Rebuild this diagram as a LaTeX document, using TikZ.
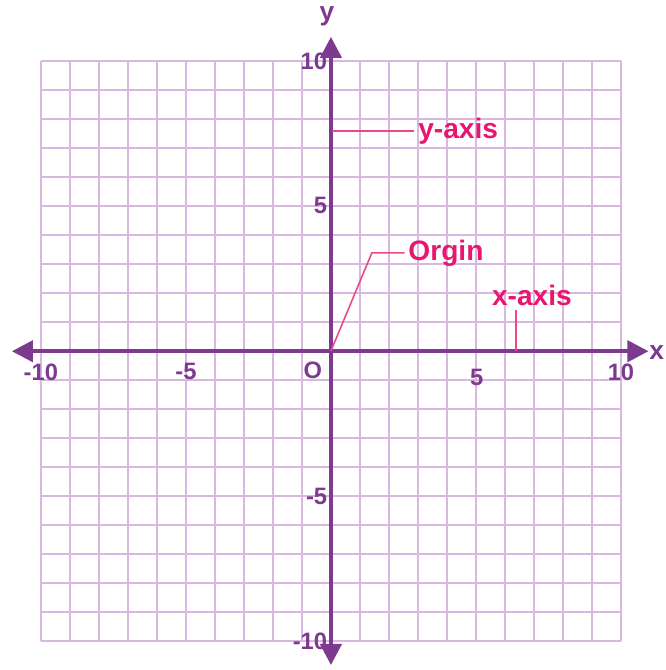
\documentclass[tikz,border=0pt]{standalone}
\usepackage{fontspec}
\setsansfont{Liberation Sans}
\usetikzlibrary{arrows.meta}
\definecolor{AxisPurple}{RGB}{125,58,142}
\definecolor{GridLilac}{RGB}{216,184,224}
\definecolor{NotePink}{RGB}{232,22,112}
\definecolor{LeaderPink}{RGB}{238,70,140}

\begin{document}
\begin{tikzpicture}[x=0.58cm,y=0.58cm, every node/.style={font=\sffamily\bfseries},
  axis/.style={AxisPurple, line width=2.3pt, -{Triangle[width=12pt,length=12pt]}},
  ticklabel/.style={text=AxisPurple, font=\sffamily\bfseries\fontsize{13.5}{14}\selectfont, inner sep=0pt},
  note/.style={text=NotePink, font=\sffamily\bfseries\fontsize{16}{17}\selectfont, inner sep=0pt},
  leader/.style={LeaderPink, line width=0.9pt}]
  \useasboundingbox (-11.41,-11.0) rectangle (11.52,12.10);
  \draw[GridLilac, line width=0.85pt, step={(1,1)}] (-10,-10) grid (10,10);
  % axes
  \draw[axis] (0,-0.01) -- (-11.0,-0.01);
  \draw[axis] (0,-0.01) -- (10.95,-0.01);
  \draw[axis] (0,0) -- (0,10.83);
  \draw[axis] (0,0) -- (0,-10.83);
  \node[text=AxisPurple, font=\sffamily\bfseries\fontsize{15}{16}\selectfont] (ylabel) at (-0.14,11.55) {y};
  \node[text=AxisPurple, font=\sffamily\bfseries\fontsize{15}{16}\selectfont, anchor=east, inner sep=0pt] (xlabel) at (11.5,-0.05) {x};
  % tick labels
  \foreach \y/\t in {10/10,5/5,-5/-5,-10/-10} {
    \node[ticklabel, anchor=east] (ytick\y) at (-0.12,\y) {\t};
  }
  \foreach \x/\t in {-10/-10,-5/-5,10/10} {
    \node[ticklabel] (xtick\x) at (\x,-0.72) {\t};
  }
  \node[ticklabel] (xtick5) at (5.03,-0.92) {5};
  \node[ticklabel] (origlabel) at (-0.62,-0.68) {O};
  % annotations
  \coordinate (O) at (0,0);
  \coordinate (yfoot) at (0.05,7.59);
  \coordinate (obend) at (1.41,3.38);
  \coordinate (xfoot) at (6.38,0);
  \node[note, anchor=west] (ynote) at (3.0,7.59) {y-axis};
  \node[note, anchor=west] (onote) at (2.66,3.38) {Orgin};
  \node[note] (xnote) at (6.93,1.9) {x-axis};
  \draw[leader] (yfoot) -- ([xshift=-2pt]ynote.west);
  \draw[leader] (O) -- (obend) -- ([xshift=-2pt]onote.west);
  \draw[leader] (xfoot) -- (xfoot |- 0,1.41);
\end{tikzpicture}
\end{document}
